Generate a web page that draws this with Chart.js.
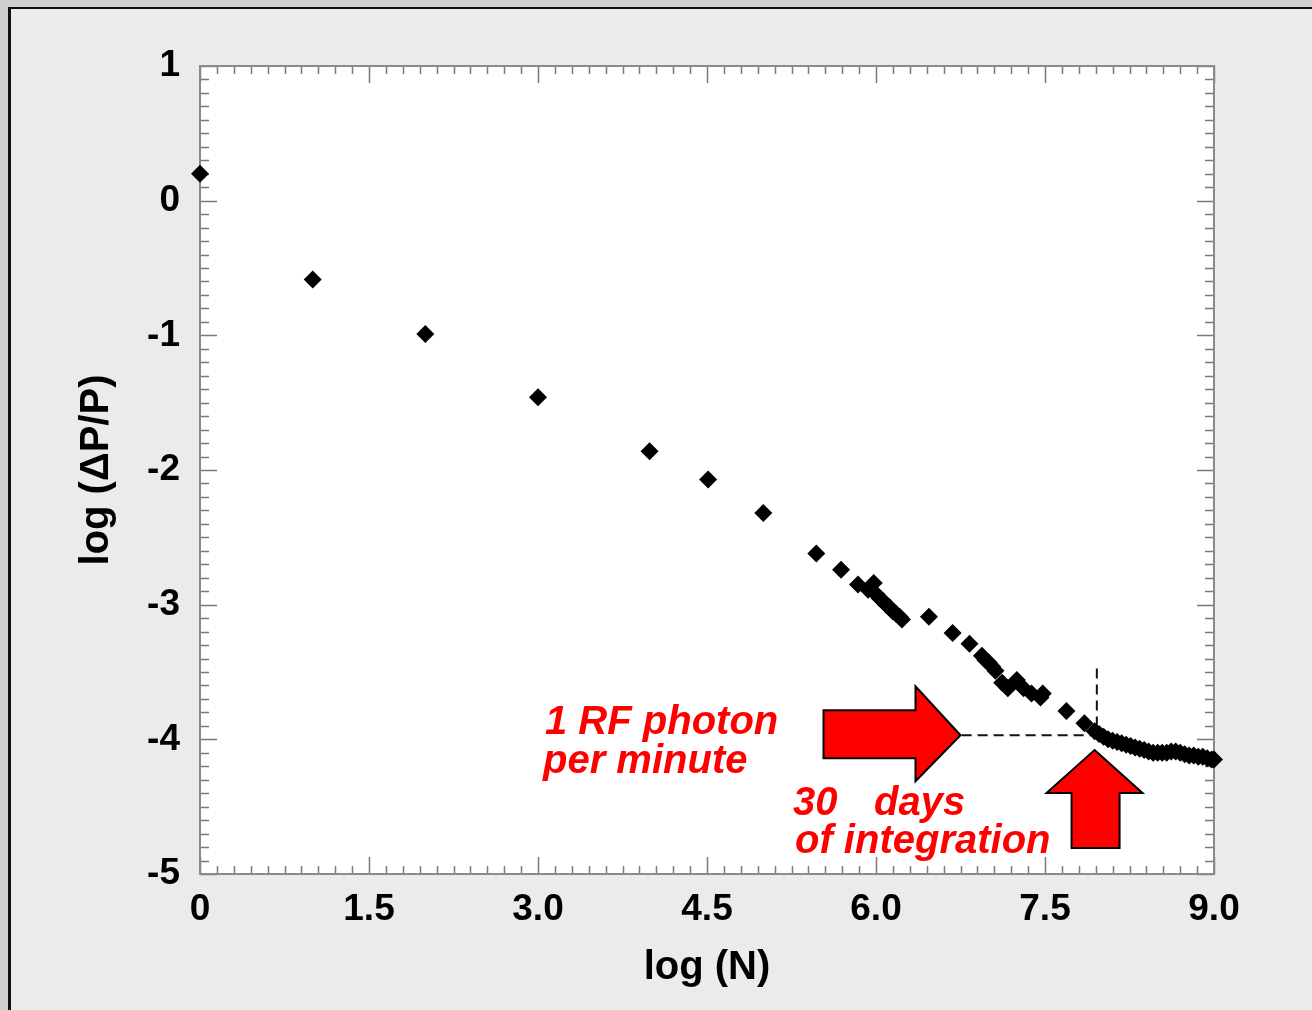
<!DOCTYPE html>
<html>
<head>
<meta charset="utf-8">
<script src="https://cdn.jsdelivr.net/npm/chart.js@4.4.1/dist/chart.umd.min.js"></script>
<style>
  html, body { margin: 0; padding: 0; background: #ebebeb; }
  canvas { display: block; }
</style>
</head>
<body>
<canvas id="scatterChart" width="1312" height="1010"></canvas>
<script>
// log(N) and log(dP/P)
const logN = [
  0, 1, 2, 3, 3.99, 4.51, 5.0, 5.47, 5.69, 5.84, 5.93, 5.98,
  6.00, 6.03, 6.06, 6.09, 6.12, 6.15, 6.18, 6.21, 6.23,
  6.47, 6.68, 6.83,
  6.94, 6.97, 7.00, 7.03, 7.06,
  7.12, 7.17, 7.25, 7.31, 7.38, 7.46, 7.48, 7.69, 7.85,
  7.94, 7.98, 8.02, 8.06, 8.10, 8.14, 8.18, 8.22, 8.26, 8.30, 8.34, 8.38,
  8.42, 8.46, 8.50, 8.54, 8.58, 8.62, 8.66, 8.70, 8.74, 8.78, 8.82, 8.86,
  8.90, 8.94, 8.98, 9.00
];
const logDP = [
  0.2, -0.585, -0.99, -1.46, -1.86, -2.07, -2.32, -2.62, -2.74, -2.85, -2.89, -2.84,
  -2.92, -2.95, -2.97, -3.00, -3.02, -3.05, -3.07, -3.09, -3.11,
  -3.09, -3.21, -3.29,
  -3.38, -3.41, -3.43, -3.46, -3.49,
  -3.58, -3.62, -3.56, -3.62, -3.66, -3.69, -3.66, -3.79, -3.88,
  -3.94, -3.96, -3.98, -4.00, -4.01, -4.02, -4.03, -4.04, -4.05, -4.06, -4.07, -4.08,
  -4.09, -4.10, -4.10, -4.10, -4.10, -4.09, -4.09, -4.10, -4.11, -4.12, -4.12, -4.13,
  -4.13, -4.14, -4.15, -4.15
];
// dashed guide: 1 photon/min level and the 30 days point
const guideX = [6.76, 7.96, 7.96];
const guideY = [-3.97, -3.97, -3.46];

const xTickLabels = ['0', '1.5', '3.0', '4.5', '6.0', '7.5', '9.0'];
const yTickLabels = ['-5', '-4', '-3', '-2', '-1', '0', '1'];

const FONT = "'Liberation Sans', Arial, Helvetica, sans-serif";

// frame, white plot area, inward ticks, arrows and red notes
const decor = {
  id: 'decor',
  beforeDraw(chart) {
    const ctx = chart.ctx;
    const a = chart.chartArea;
    ctx.save();
    ctx.fillStyle = '#cfcfcf';
    ctx.fillRect(0, 0, chart.width, chart.height);
    ctx.fillStyle = '#111';
    ctx.fillRect(8, 7, chart.width, chart.height);
    ctx.fillStyle = '#ebebeb';
    ctx.fillRect(11, 9, chart.width, chart.height);
    ctx.fillStyle = '#fff';
    ctx.fillRect(a.left, a.top, a.right - a.left, a.bottom - a.top);
    ctx.restore();
  },
  beforeDatasetsDraw(chart) {
    const ctx = chart.ctx;
    const a = chart.chartArea;
    const xs = chart.scales.x, ys = chart.scales.y;
    ctx.save();
    ctx.strokeStyle = '#7a7a7a';
    ctx.lineWidth = 1.5;
    ctx.beginPath();
    for (let i = 0; i <= 60; i++) {
      const py = Math.round(ys.getPixelForValue(-5 + i * 0.1)) + 0.5;
      const len = i % 10 === 0 ? 17 : 9;
      ctx.moveTo(a.left, py); ctx.lineTo(a.left + len, py);
      ctx.moveTo(a.right, py); ctx.lineTo(a.right - len, py);
    }
    for (let i = 0; i <= 60; i++) {
      const px = Math.round(xs.getPixelForValue(i * 0.15)) + 0.5;
      const len = i % 10 === 0 ? 17 : 8;
      ctx.moveTo(px, a.top); ctx.lineTo(px, a.top + len);
      ctx.moveTo(px, a.bottom); ctx.lineTo(px, a.bottom - len);
    }
    ctx.stroke();
    ctx.lineWidth = 2;
    ctx.strokeStyle = '#8a8a8a';
    ctx.strokeRect(a.left, a.top, a.right - a.left, a.bottom - a.top);
    ctx.restore();
  },
  afterDatasetsDraw(chart) {
    const ctx = chart.ctx;
    const xs = chart.scales.x, ys = chart.scales.y;
    ctx.save();
    ctx.fillStyle = '#ff0000';
    ctx.strokeStyle = '#000';
    ctx.lineWidth = 2;
    ctx.lineJoin = 'miter';

    // arrow pointing right, tip at the dashed line end
    let tx = xs.getPixelForValue(6.75), ty = ys.getPixelForValue(-3.97);
    ctx.beginPath();
    ctx.moveTo(tx, ty);
    ctx.lineTo(tx - 45, ty - 49);
    ctx.lineTo(tx - 45, ty - 25);
    ctx.lineTo(tx - 137, ty - 25);
    ctx.lineTo(tx - 137, ty + 23);
    ctx.lineTo(tx - 45, ty + 23);
    ctx.lineTo(tx - 45, ty + 46);
    ctx.closePath();
    ctx.fill(); ctx.stroke();

    // arrow pointing up under the curve
    tx = xs.getPixelForValue(7.94); ty = ys.getPixelForValue(-4.08);
    ctx.beginPath();
    ctx.moveTo(tx, ty);
    ctx.lineTo(tx + 48, ty + 43);
    ctx.lineTo(tx + 25, ty + 43);
    ctx.lineTo(tx + 25, ty + 98);
    ctx.lineTo(tx - 23, ty + 98);
    ctx.lineTo(tx - 23, ty + 43);
    ctx.lineTo(tx - 48, ty + 43);
    ctx.closePath();
    ctx.fill(); ctx.stroke();

    ctx.font = 'italic bold 40px ' + FONT;
    ctx.textBaseline = 'alphabetic';
    ctx.textAlign = 'left';
    ctx.fillText('1 RF photon', 545, 734);
    ctx.fillText('per minute', 543, 773);
    ctx.fillText('30', 793, 815);
    ctx.fillText('days', 874, 815);
    ctx.fillText('of integration', 795, 853);
    ctx.restore();
  }
};

const points = logN.map((v, i) => ({ x: v, y: logDP[i] }));
const guide = guideX.map((v, i) => ({ x: v, y: guideY[i] }));

const scatterChart = new Chart(
  document.getElementById('scatterChart'),
  {
    type: 'scatter',
    data: {
      datasets: [
        {
          label: 'dP/P',
          data: points,
          pointStyle: 'rectRot',
          pointRadius: 9,
          backgroundColor: '#000',
          borderColor: '#000',
          borderWidth: 0,
          clip: false
        },
        {
          label: 'guide',
          data: guide,
          showLine: true,
          pointRadius: 0,
          borderColor: '#111',
          borderWidth: 2,
          borderDash: [10, 6]
        }
      ]
    },
    options: {
      responsive: false,
      animation: false,
      layout: { padding: { top: 66, right: 98, left: 0, bottom: 0 } },
      plugins: {
        legend: { display: false },
        tooltip: { enabled: false }
      },
      scales: {
        x: {
          type: 'linear',
          min: 0,
          max: 9,
          grid: { display: false, drawTicks: false },
          border: { display: false },
          ticks: {
            stepSize: 1.5,
            padding: 14,
            color: '#000',
            font: { family: FONT, size: 37, weight: 'bold' },
            callback: (v, i) => xTickLabels[i]
          },
          title: {
            display: true,
            text: 'log (N)',
            color: '#000',
            font: { family: FONT, size: 40, weight: 'bold' },
            padding: { top: 0, bottom: 18 }
          },
          afterFit: s => { s.height = 136; }
        },
        y: {
          type: 'linear',
          min: -5,
          max: 1,
          grid: { display: false, drawTicks: false },
          border: { display: false },
          ticks: {
            stepSize: 1,
            padding: 20,
            color: '#000',
            font: { family: FONT, size: 37, weight: 'bold' },
            callback: (v, i) => yTickLabels[i]
          },
          title: {
            display: true,
            text: 'log (\u0394P/P)',
            color: '#000',
            font: { family: FONT, size: 40, weight: 'bold' },
            padding: { top: 73, bottom: 0 }
          },
          afterFit: s => { s.width = 200; }
        }
      }
    },
    plugins: [decor]
  }
);
</script>
</body>
</html>
